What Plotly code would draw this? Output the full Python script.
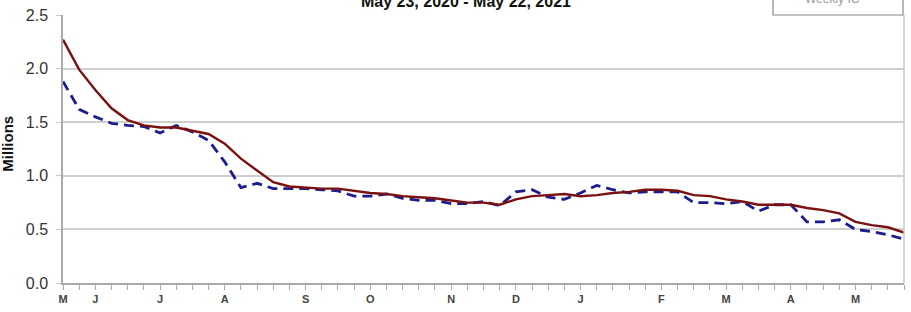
import pandas as pd
import plotly.graph_objects as go

# Weekly dates (Saturdays) May 23, 2020 - May 22, 2021
week_start = "2020-05-23"
n_weeks = 53
weeks = pd.date_range(week_start, periods=n_weeks, freq="7D")

# Weekly initial claims (millions) - dashed
weekly = [1.88, 1.62, 1.55, 1.49, 1.47, 1.46, 1.40, 1.47, 1.41, 1.33,
          1.13, 0.89, 0.93, 0.88, 0.88, 0.88, 0.87, 0.86, 0.81, 0.81,
          0.83, 0.79, 0.77, 0.77, 0.74, 0.74, 0.76, 0.72, 0.85, 0.87,
          0.80, 0.78, 0.84, 0.91, 0.87, 0.84, 0.85, 0.85, 0.85, 0.75,
          0.75, 0.74, 0.76, 0.67, 0.73, 0.73, 0.57, 0.57, 0.59, 0.50,
          0.48, 0.45, 0.41]

# 4-week moving average (millions) - solid
moving_avg = [2.27, 1.99, 1.80, 1.63, 1.52, 1.47, 1.45, 1.45, 1.42, 1.39,
              1.30, 1.16, 1.05, 0.94, 0.90, 0.89, 0.88, 0.88, 0.86, 0.84,
              0.83, 0.81, 0.80, 0.79, 0.77, 0.75, 0.75, 0.73, 0.78, 0.81,
              0.82, 0.83, 0.81, 0.82, 0.84, 0.85, 0.87, 0.87, 0.86, 0.82,
              0.81, 0.78, 0.76, 0.73, 0.73, 0.73, 0.70, 0.68, 0.65, 0.57,
              0.54, 0.52, 0.47]

# Month labels at the first Saturday of each month
month_dates = ["2020-05-23", "2020-06-06", "2020-07-04", "2020-08-01",
               "2020-09-05", "2020-10-03", "2020-11-07", "2020-12-05",
               "2021-01-02", "2021-02-06", "2021-03-06", "2021-04-03",
               "2021-05-01"]
month_labels = ["M", "J", "J", "A", "S", "O", "N", "D", "J", "F", "M", "A", "M"]

y_ticks = [0.0, 0.5, 1.0, 1.5, 2.0, 2.5]
y_ticktext = ["0.0", "0.5", "1.0", "1.5", "2.0", "2.5"]

title_text = "May 23, 2020 - May 22, 2021"
legend_text = "Weekly IC"

W, H = 911, 312
ml, mr, mt, mb = 63, 7, 12, 27
plot_h = H - mt - mb
plot_w = W - ml - mr

FONT = "Arial, Liberation Sans, sans-serif"

fig = go.Figure()
fig.add_trace(go.Scatter(x=weeks, y=weekly, mode="lines",
                         line=dict(color="#1c1c8c", width=2.8, dash="10px,6px"),
                         name="Weekly"))
fig.add_trace(go.Scatter(x=weeks, y=moving_avg, mode="lines",
                         line=dict(color="#7a1010", width=2.4),
                         name="4-Week Moving Average"))

fig.update_layout(
    width=W, height=H,
    margin=dict(l=ml, r=mr, t=mt, b=mb, pad=0),
    paper_bgcolor="white", plot_bgcolor="white",
    showlegend=False,
    font=dict(family=FONT, color="#333333"),
    xaxis=dict(
        range=[weeks[0], weeks[-1]],
        tickvals=month_dates, ticktext=month_labels,
        tickfont=dict(size=11, color="#444444", family=FONT, weight="bold"),
        ticks="outside", ticklen=5, tickcolor="#aaaaaa", tickwidth=1,
        minor=dict(dtick=7 * 86400000, tick0=week_start, ticks="outside",
                   ticklen=5, tickcolor="#aaaaaa", tickwidth=1, showgrid=False),
        showgrid=False, showline=True, linecolor="#aaaaaa", linewidth=1.5,
        zeroline=False,
    ),
    yaxis=dict(
        range=[0, 2.5], tickvals=y_ticks, ticktext=y_ticktext,
        tickfont=dict(size=16, color="#333333", family=FONT),
        ticks="outside", ticklen=5, tickcolor="#c8c8c8",
        ticklabelstandoff=5,
        showgrid=True, gridcolor="#cfcfcf", gridwidth=1.5,
        showline=True, linecolor="#aaaaaa", linewidth=1.5,
        zeroline=False,
    ),
)

# right border of the plot area
fig.add_shape(type="line", xref="paper", yref="paper", x0=1, x1=1, y0=0, y1=1,
              line=dict(color="#c8c8c8", width=1.5))

# y axis title
fig.add_annotation(text="<b>Millions</b>", xref="paper", yref="paper",
                   x=0, y=0.52, xanchor="center", yanchor="middle",
                   xshift=-55, textangle=-90, showarrow=False,
                   font=dict(size=15, color="#111111", family=FONT))

# clipped chart title at top
fig.add_annotation(text="<b>" + title_text + "</b>", xref="paper", yref="paper",
                   x=(466 - ml) / plot_w, y=(H - mb + 2) / plot_h,
                   xanchor="center", yanchor="middle", showarrow=False,
                   font=dict(size=16, color="#111111", family=FONT))

# clipped legend box at top right
fig.add_shape(type="rect", xref="paper", yref="paper",
              x0=(773 - ml) / plot_w, x1=(903 - ml) / plot_w,
              y0=1.0, y1=(H - mb + 10) / plot_h,
              line=dict(color="#888888", width=1.2), fillcolor="white")
fig.add_annotation(text=legend_text, xref="paper", yref="paper",
                   x=(832 - ml) / plot_w, y=(H - mb + 4) / plot_h,
                   xanchor="center", yanchor="middle", showarrow=False,
                   font=dict(size=12, color="#999999", family=FONT))

fig.write_html("out.html")
